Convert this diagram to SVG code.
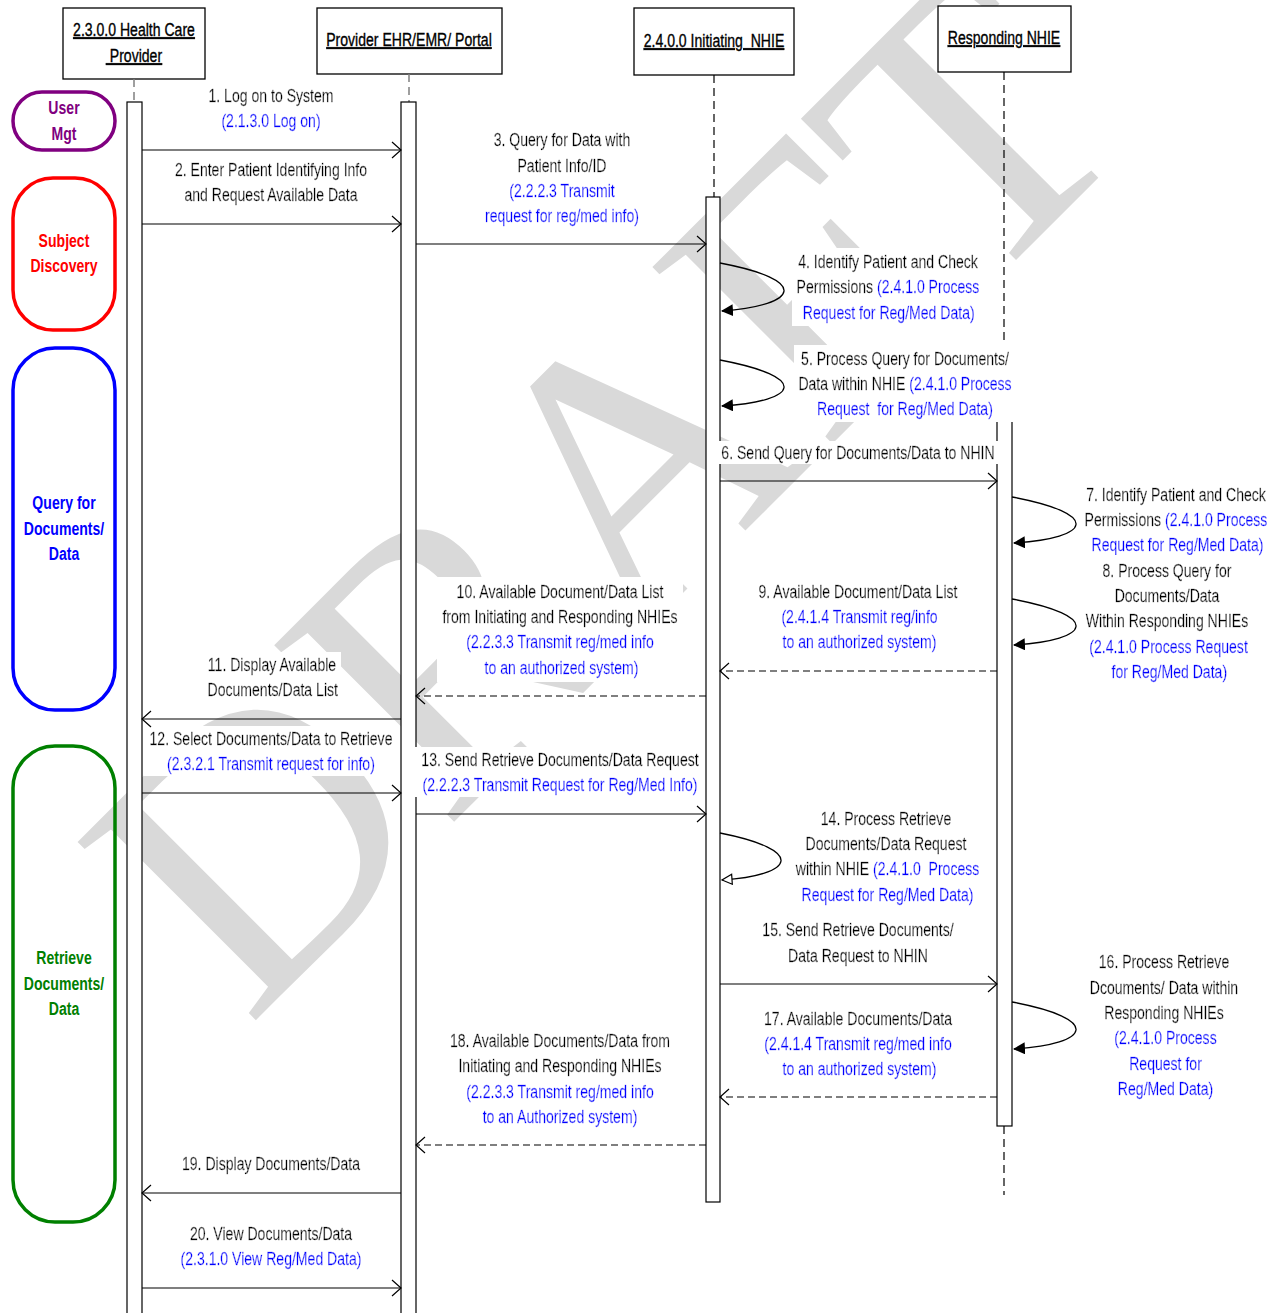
<svg xmlns="http://www.w3.org/2000/svg" width="1280" height="1313" viewBox="0 0 1280 1313">
<style>
.t{font-family:"Liberation Sans","Arial",sans-serif;font-size:18.5px;fill:#000;stroke:#000;stroke-width:0.35;text-anchor:middle}
.b{fill:#0000ff;stroke:#0000ff}
.hd{text-decoration:underline}
.grp{font-weight:bold}
.box{fill:#fff;stroke:#000;stroke-width:1.3}
.bar{fill:#fff;stroke:#000;stroke-width:1.2}
.ll{stroke:#000;stroke-width:1.2;stroke-dasharray:8 5;fill:none}
.llg{stroke:#808080;stroke-width:1.5;stroke-dasharray:8 5;fill:none}
.m{stroke:#000;stroke-width:1.2;fill:none;marker-end:url(#open)}
.r{stroke:#000;stroke-width:1.2;fill:none;stroke-dasharray:7 4;marker-end:url(#open)}
.lp{stroke:#000;stroke-width:1.3;fill:none;marker-end:url(#solid)}
.lph{stroke:#000;stroke-width:1.3;fill:none;marker-end:url(#hollow)}
.wm{font-family:"Liberation Serif","Times New Roman",serif;font-size:385px;fill:#d9d9d9}
</style>
<defs>
<marker id="open" markerUnits="userSpaceOnUse" markerWidth="14" markerHeight="20" refX="11" refY="9" orient="auto"><path d="M2,1 L11,9 L2,17" fill="none" stroke="#000" stroke-width="1.2"/></marker>
<marker id="solid" markerUnits="userSpaceOnUse" markerWidth="14" markerHeight="14" refX="11" refY="6" orient="auto"><path d="M0,0 L12,6 L0,12 z" fill="#000"/></marker>
<marker id="hollow" markerUnits="userSpaceOnUse" markerWidth="14" markerHeight="14" refX="11" refY="6" orient="auto"><path d="M1,1 L11,6 L1,11 z" fill="#fff" stroke="#000" stroke-width="1.2"/></marker>
<filter id="bg" x="-0.02" y="-0.04" width="1.04" height="1.08"><feFlood flood-color="#fff" result="f"/><feMerge><feMergeNode in="f"/><feMergeNode in="SourceGraphic"/></feMerge></filter>
</defs>
<rect width="1280" height="1313" fill="#fff"/>
<g id="watermark"><text class="wm" transform="translate(248,1028) rotate(-45)">DRAFT</text></g>

<g id="groups">
<g id="grp-user"><rect x="13" y="92" width="102" height="58" rx="29" fill="none" stroke="#800080" stroke-width="3.5"/><text class="t grp" style="fill:#800080;stroke:none" transform="matrix(.76 0 0 1 15.36 0)"><tspan x="64" y="114">User</tspan><tspan x="64" y="140">Mgt</tspan></text></g>
<g id="grp-subject"><rect x="13" y="178" width="102" height="152" rx="40" fill="none" stroke="#ff0000" stroke-width="3.5"/><text class="t grp" style="fill:#ff0000;stroke:none" transform="matrix(.76 0 0 1 15.36 0)"><tspan x="64" y="247">Subject</tspan><tspan x="64" y="272">Discovery</tspan></text></g>
<g id="grp-query"><rect x="13" y="348" width="102" height="362" rx="42" fill="none" stroke="#0000ff" stroke-width="3.5"/><text class="t grp" style="fill:#0000ff;stroke:none" transform="matrix(.76 0 0 1 15.36 0)"><tspan x="64" y="509">Query for</tspan><tspan x="64" y="535">Documents/</tspan><tspan x="64" y="560">Data</tspan></text></g>
<g id="grp-retrieve"><rect x="13" y="746" width="102" height="476" rx="42" fill="none" stroke="#008000" stroke-width="3.5"/><text class="t grp" style="fill:#008000;stroke:none" transform="matrix(.76 0 0 1 15.36 0)"><tspan x="64" y="964">Retrieve</tspan><tspan x="64" y="990">Documents/</tspan><tspan x="64" y="1015">Data</tspan></text></g>
</g>

<g id="hcp">
<rect class="box" x="63" y="8" width="142" height="71"/>
<text class="t hd" transform="matrix(.76 0 0 1 32.16 0)"><tspan x="134" y="36">2.3.0.0 Health Care</tspan><tspan x="134" y="62">&#160;Provider</tspan></text>
<line class="llg" x1="134" y1="79" x2="134" y2="102"/>
<rect class="bar" x="127" y="102" width="15" height="1220"/>
</g>
<g id="ehr">
<rect class="box" x="317" y="8" width="185" height="66"/>
<text class="t hd" transform="matrix(.76 0 0 1 98.16 0)"><tspan x="409" y="46">Provider EHR/EMR/ Portal</tspan></text>
<line class="llg" x1="409" y1="74" x2="409" y2="102"/>
<rect class="bar" x="401" y="102" width="15" height="1220"/>
</g>
<g id="init">
<rect class="box" x="634" y="8" width="160" height="67"/>
<text class="t hd" transform="matrix(.76 0 0 1 171.36 0)"><tspan x="714" y="47">2.4.0.0 Initiating&#160; NHIE</tspan></text>
<line class="ll" x1="714" y1="75" x2="714" y2="197"/>
<rect class="bar" x="706" y="197" width="14" height="1005"/>
</g>
<g id="resp">
<rect class="box" x="938" y="6" width="133" height="66"/>
<text class="t hd" transform="matrix(.76 0 0 1 240.96 0)"><tspan x="1004" y="44">Responding NHIE</tspan></text>
<line class="ll" x1="1004" y1="72" x2="1004" y2="388"/>
<line class="ll" x1="1004" y1="1126" x2="1004" y2="1195"/>
<rect class="bar" x="997" y="388" width="15" height="738"/>
</g>

<g id="labels">
<text class="t" filter="url(#bg)" transform="matrix(.76 0 0 1 65.04 0)"><tspan x="271" y="102">1. Log on to System</tspan><tspan class="b" x="271" y="127">(2.1.3.0 Log on)</tspan></text>
<text class="t" filter="url(#bg)" transform="matrix(.76 0 0 1 65.04 0)"><tspan x="271" y="176">2. Enter Patient Identifying Info</tspan><tspan x="271" y="201">and Request Available Data</tspan></text>
<text class="t" filter="url(#bg)" transform="matrix(.76 0 0 1 134.88 0)"><tspan x="562" y="146">3. Query for Data with</tspan><tspan x="562" y="172">Patient Info/ID</tspan><tspan class="b" x="562" y="197">(2.2.2.3 Transmit</tspan><tspan class="b" x="562" y="222">request for reg/med info)</tspan></text>
<text class="t" filter="url(#bg)" transform="matrix(.76 0 0 1 213.12 0)"><tspan x="888" y="268">4. Identify Patient and Check</tspan><tspan x="888" y="293">Permissions <tspan class="b">(2.4.1.0 Process</tspan></tspan><tspan class="b" x="889" y="319">Request for Reg/Med Data)</tspan></text>
<text class="t" filter="url(#bg)" transform="matrix(.76 0 0 1 217.2 0)"><tspan x="905" y="365">5. Process Query for Documents/</tspan><tspan x="905" y="390">Data within NHIE <tspan class="b">(2.4.1.0 Process</tspan></tspan><tspan class="b" x="905" y="415">Request&#160; for Reg/Med Data)</tspan></text>
<text class="t" filter="url(#bg)" transform="matrix(.76 0 0 1 205.92 0)"><tspan x="858" y="459">6. Send Query for Documents/Data to NHIN</tspan></text>
<text class="t" filter="url(#bg)" transform="matrix(.76 0 0 1 282.24 0)"><tspan x="1176" y="501">7. Identify Patient and Check</tspan><tspan x="1176" y="526">Permissions <tspan class="b">(2.4.1.0 Process</tspan></tspan><tspan class="b" x="1178" y="551">Request for Reg/Med Data)</tspan></text>
<text class="t" filter="url(#bg)" transform="matrix(.76 0 0 1 280.08 0)"><tspan x="1167" y="577">8. Process Query for</tspan><tspan x="1167" y="602">Documents/Data</tspan><tspan x="1167" y="627">Within Responding NHIEs</tspan><tspan class="b" x="1169" y="653">(2.4.1.0 Process Request</tspan><tspan class="b" x="1170" y="678">for Reg/Med Data)</tspan></text>
<text class="t" filter="url(#bg)" transform="matrix(.76 0 0 1 205.92 0)"><tspan x="858" y="598">9. Available Document/Data List</tspan><tspan class="b" x="860" y="623">(2.4.1.4 Transmit reg/info</tspan><tspan class="b" x="860" y="648">to an authorized system)</tspan></text>
<text class="t" filter="url(#bg)" transform="matrix(.76 0 0 1 134.4 0)"><tspan x="560" y="598">10. Available Document/Data List</tspan><tspan x="560" y="623">from Initiating and Responding NHIEs</tspan><tspan class="b" x="560" y="648">(2.2.3.3 Transmit reg/med info</tspan><tspan class="b" x="562" y="674">to an authorized system)</tspan></text>
<text class="t" filter="url(#bg)" transform="matrix(.76 0 0 1 65.28 0)"><tspan x="272" y="671">11. Display Available</tspan><tspan x="273" y="696">Documents/Data List</tspan></text>
<text class="t" filter="url(#bg)" transform="matrix(.76 0 0 1 65.04 0)"><tspan x="271" y="745">12. Select Documents/Data to Retrieve</tspan><tspan class="b" x="271" y="770">(2.3.2.1 Transmit request for info)</tspan></text>
<text class="t" filter="url(#bg)" transform="matrix(.76 0 0 1 134.4 0)"><tspan x="560" y="766">13. Send Retrieve Documents/Data Request</tspan><tspan class="b" x="560" y="791">(2.2.2.3 Transmit Request for Reg/Med Info)</tspan></text>
<text class="t" filter="url(#bg)" transform="matrix(.76 0 0 1 212.64 0)"><tspan x="886" y="825">14. Process Retrieve</tspan><tspan x="886" y="850">Documents/Data Request</tspan><tspan x="888" y="875">within NHIE <tspan class="b">(2.4.1.0&#160; Process</tspan></tspan><tspan class="b" x="888" y="901">Request for Reg/Med Data)</tspan></text>
<text class="t" filter="url(#bg)" transform="matrix(.76 0 0 1 205.92 0)"><tspan x="858" y="936">15. Send Retrieve Documents/</tspan><tspan x="858" y="962">Data Request to NHIN</tspan></text>
<text class="t" filter="url(#bg)" transform="matrix(.76 0 0 1 279.36 0)"><tspan x="1164" y="968">16. Process Retrieve</tspan><tspan x="1164" y="994">Dcouments/ Data within</tspan><tspan x="1164" y="1019">Responding NHIEs</tspan><tspan class="b" x="1166" y="1044">(2.4.1.0 Process</tspan><tspan class="b" x="1166" y="1070">Request for</tspan><tspan class="b" x="1166" y="1095">Reg/Med Data)</tspan></text>
<text class="t" filter="url(#bg)" transform="matrix(.76 0 0 1 205.92 0)"><tspan x="858" y="1025">17. Available Documents/Data</tspan><tspan class="b" x="858" y="1050">(2.4.1.4 Transmit reg/med info</tspan><tspan class="b" x="860" y="1075">to an authorized system)</tspan></text>
<text class="t" filter="url(#bg)" transform="matrix(.76 0 0 1 134.4 0)"><tspan x="560" y="1047">18. Available Documents/Data from</tspan><tspan x="560" y="1072">Initiating and Responding NHIEs</tspan><tspan class="b" x="560" y="1098">(2.2.3.3 Transmit reg/med info</tspan><tspan class="b" x="560" y="1123">to an Authorized system)</tspan></text>
<text class="t" filter="url(#bg)" transform="matrix(.76 0 0 1 65.04 0)"><tspan x="271" y="1170">19. Display Documents/Data</tspan></text>
<text class="t" filter="url(#bg)" transform="matrix(.76 0 0 1 65.04 0)"><tspan x="271" y="1240">20. View Documents/Data</tspan><tspan class="b" x="271" y="1265">(2.3.1.0 View Reg/Med Data)</tspan></text>
</g>

<g id="connectors">
<path class="m" d="M142,150 H401"/>
<path class="m" d="M142,224 H401"/>
<path class="m" d="M416,244 H706"/>
<path class="lp" d="M720,263 C810,280 800,305 722,311"/>
<path class="lp" d="M720,360 C810,377 800,401 722,406"/>
<path class="m" d="M720,481 H997"/>
<path class="lp" d="M1012,497 C1102,514 1092,538 1014,543"/>
<path class="lp" d="M1012,599 C1102,616 1092,640 1014,645"/>
<path class="r" d="M997,671 H720"/>
<path class="r" d="M706,696 H416"/>
<path class="m" d="M401,719 H142"/>
<path class="m" d="M142,793 H401"/>
<path class="m" d="M416,814 H706"/>
<path class="lph" d="M720,833 C806,850 796,875 722,880"/>
<path class="m" d="M720,984 H997"/>
<path class="lp" d="M1012,1002 C1102,1019 1092,1044 1014,1049"/>
<path class="r" d="M997,1097 H720"/>
<path class="r" d="M706,1145 H416"/>
<path class="m" d="M401,1193 H142"/>
<path class="m" d="M142,1288 H401"/>
</g>
</svg>
